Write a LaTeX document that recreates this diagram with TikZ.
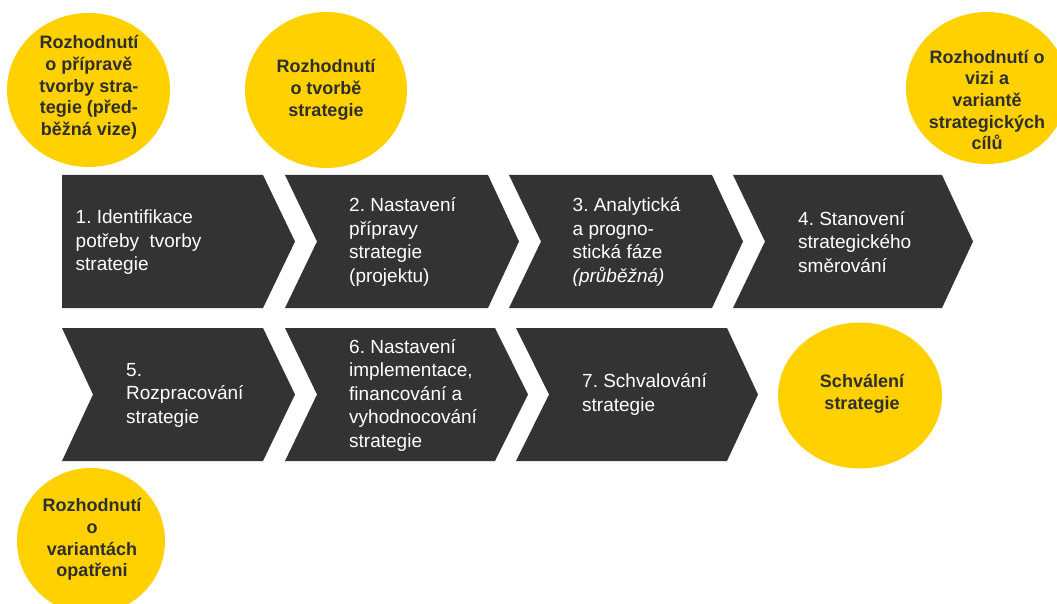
\documentclass[tikz,border=0pt]{standalone}
\usepackage{fontspec}
\setmainfont{Liberation Sans}
\usetikzlibrary{shapes.geometric}
\frenchspacing
\definecolor{chevfill}{HTML}{333333}
\definecolor{gold}{HTML}{FFD100}
\definecolor{goaltext}{HTML}{2E2E2E}
\newcommand\chevpath[6]{% left, right, top, bottom, notch, depth
  (#1,#3) -- (#2,#3) -- ({#2+#6},{(#3+#4)/2}) -- (#2,#4) -- (#1,#4) -- ({#1+#5},{(#3+#4)/2}) -- cycle}
\tikzset{
  chevshape/.style={fill=chevfill, draw=none},
  chevtext/.style={text=white, align=left, anchor=west, inner sep=0pt,
    font=\fontsize{19}{23.5}\selectfont},
  goal/.style={ellipse, fill=gold, draw=none, inner sep=0pt},
  goaltxt/.style={text=goaltext, align=center, inner sep=0pt,
    font=\bfseries\fontsize{18}{21.7}\selectfont}
}
\begin{document}
\begin{tikzpicture}[x=1pt,y=-1pt]
\useasboundingbox (0,0) rectangle (1057,604);
\clip (0,0) rectangle (1057,604);
\fill[white] (0,0) rectangle (1057,604);

% chevrons row 1
\fill[chevshape] \chevpath{62}{263}{175}{308}{0}{32};
\fill[chevshape] \chevpath{285}{488}{175}{308}{32}{31};
\fill[chevshape] \chevpath{509}{712}{175}{308}{32}{31};
\fill[chevshape] \chevpath{733}{942}{175}{308}{32}{31};
% chevrons row 2
\fill[chevshape] \chevpath{62}{263}{328}{461}{31}{32};
\fill[chevshape] \chevpath{285}{495}{328}{461}{32}{33};
\fill[chevshape] \chevpath{516}{727}{328}{461}{33}{31};

% chevron texts
\node[chevtext] (s1) at (75.5,242.5) {1. Identifikace\\potřeby~ tvorby\\strategie};
\node[chevtext] (s2) at (349,242) {2. Nastavení\\přípravy\\strategie\\(projektu)};
\node[chevtext] (s3) at (572.5,242) {3. Analytická\\a progno-\\stická fáze\\\textit{(průběžná)}};
\node[chevtext] (s4) at (798,242) {4. Stanovení\\strategického\\směrování};
\node[chevtext] (s5) at (126,395) {5.\\Rozpracování\\strategie};
\node[chevtext] (s6) at (349,395) {6. Nastavení\\implementace,\\financování a\\vyhodnocování\\strategie};
\node[chevtext] (s7) at (582,394.5) {7. Schvalování\\strategie};

% decision ellipses
\node[goal, minimum width=163pt, minimum height=154pt] (g1) at (88.5,90) {};
\node[goal, minimum width=162pt, minimum height=156pt] (g2) at (326,90) {};
\node[goal, minimum width=162pt, minimum height=152pt] (g3) at (987,88) {};
\node[goal, minimum width=164pt, minimum height=146pt] (g4) at (860,395.5) {};
\node[goal, minimum width=148pt, minimum height=146pt] (g5) at (91,541) {};

\node[goaltxt] (t1) at (89,87.5) {Rozhodnutí\\o přípravě\\tvorby stra-\\tegie (před-\\běžná vize)};
\node[goaltxt] (t2) at (326,90) {Rozhodnutí\\o tvorbě\\strategie};
\node[goaltxt] (t3) at (987,100) {Rozhodnutí o\\vizi a\\variantě\\strategických\\cílů};
\node[goaltxt] (t4) at (862,394) {Schválení\\strategie};
\node[goaltxt] (t5) at (92,539.5) {Rozhodnutí\\o\\variantách\\opatřeni};
\end{tikzpicture}
\end{document}
